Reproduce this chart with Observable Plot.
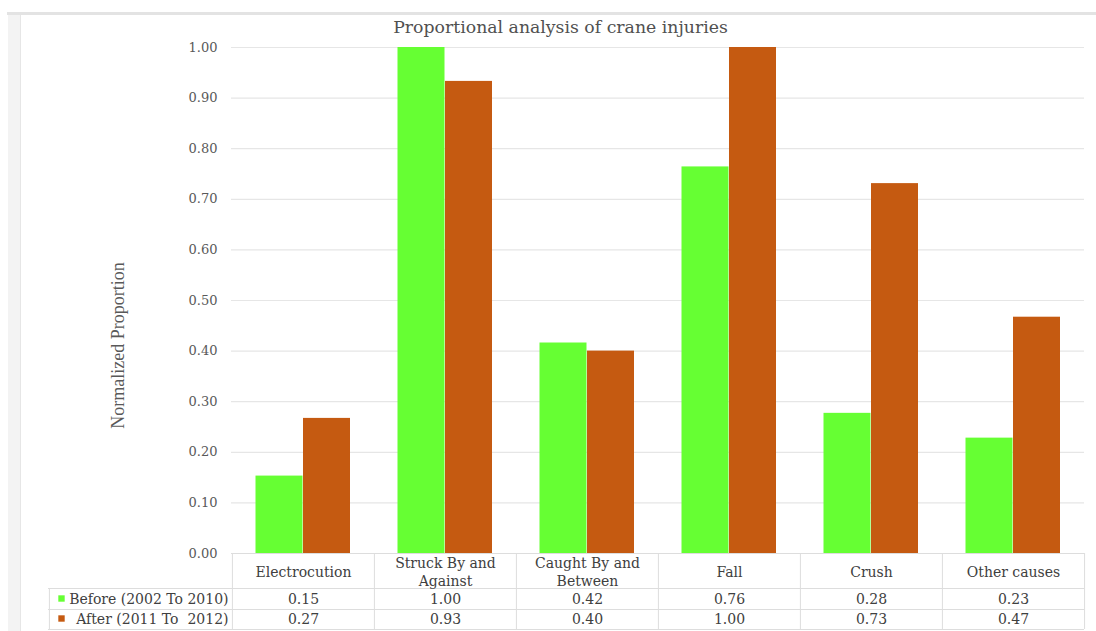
<!DOCTYPE html>
<html>
<head>
<meta charset="utf-8">
<script src="https://cdn.jsdelivr.net/npm/d3@7"></script>
<script src="https://cdn.jsdelivr.net/npm/@observablehq/plot@0.6"></script>
<style>
  html, body { margin: 0; padding: 0; background: #fff; }
  #wrap { position: relative; width: 1096px; height: 631px; overflow: hidden; }
  #topline { position: absolute; left: 7px; right: 0; top: 12px; height: 3px; background: #e3e3e3; }
  #leftstrip { position: absolute; left: 8px; top: 15px; bottom: 0; width: 12px; background: #f3f3f3; border-right: 1px solid #e6e6e6; }
  #chart { position: absolute; left: 0; top: 0; }
  svg text { white-space: pre; }
</style>
</head>
<body>
<div id="wrap">
  <div id="topline"></div>
  <div id="leftstrip"></div>
  <div id="chart"></div>
</div>
<script>
// ---- data ----
const title = "Proportional analysis of crane injuries";
const yLabel = "Normalized Proportion";
const categories = ["Electrocution", "Struck By and\nAgainst", "Caught By and\nBetween", "Fall", "Crush", "Other causes"];
const seriesNames = ["Before (2002 To 2010)", "After (2011 To  2012)"];
const before = [0.153, 1.0, 0.416, 0.764, 0.277, 0.228];
const after = [0.267, 0.933, 0.40, 1.0, 0.731, 0.467];
const yTicks = [0, 0.1, 0.2, 0.3, 0.4, 0.5, 0.6, 0.7, 0.8, 0.9, 1.0];

// ---- styles ----
const colors = ["#66FF33", "#C55A11"];
const W = 1096, H = 631;
const mL = 231, mR = 12, mT = 47, mB = 78;
const step = (W - mL - mR) / categories.length;
const frameH = H - mT - mB;
const lineColor = "#dddddd";
const serifWide = "DejaVu Serif";
const serif = "Liberation Serif";
const tableFont = 14;

const rowsBefore = categories.map((c, i) => ({cat: c, value: before[i]}));
const rowsAfter = categories.map((c, i) => ({cat: c, value: after[i]}));
const fmt = v => v.toFixed(2);

const chart = Plot.plot({
  width: W,
  height: H,
  marginLeft: mL,
  marginRight: mR,
  marginTop: mT,
  marginBottom: mB,
  style: {background: "transparent", overflow: "visible"},
  x: {domain: categories, padding: 0, axis: null},
  y: {domain: [0, 1], axis: null},
  marks: [
    Plot.gridY(yTicks, {stroke: "#e6e6e6", strokeOpacity: 1, strokeWidth: 1.2}),
    Plot.axisY(yTicks, {tickSize: 0, tickPadding: 14, tickFormat: fmt, fontSize: 13, fontFamily: serifWide, fill: "#595959", label: null}),
    Plot.barY(rowsBefore, {x: "cat", y: "value", fill: colors[0], insetLeft: 23.5, insetRight: 71.5}),
    Plot.barY(rowsAfter, {x: "cat", y: "value", fill: colors[1], insetLeft: 71, insetRight: 24}),
    // data table grid
    Plot.ruleY([0], {stroke: lineColor}),
    Plot.ruleY([0], {stroke: lineColor, dy: 35, insetLeft: -183}),
    Plot.ruleY([0], {stroke: lineColor, dy: 56, insetLeft: -183}),
    Plot.ruleY([0], {stroke: lineColor, dy: 76, insetLeft: -183}),
    Plot.ruleX(categories, {x: d => d, dx: -step / 2, stroke: lineColor, insetTop: frameH, insetBottom: -76}),
    Plot.ruleX([categories[categories.length - 1]], {x: d => d, dx: step / 2, stroke: lineColor, insetTop: frameH, insetBottom: -76}),
    Plot.ruleX([categories[0]], {x: d => d, dx: -step / 2 - 183, stroke: lineColor, insetTop: frameH + 35, insetBottom: -76}),
    // table header (category labels)
    Plot.text(categories, {x: d => d, text: d => d, frameAnchor: "bottom", dy: 18, lineAnchor: "middle", lineHeight: 1.3, fontSize: tableFont, fontFamily: serifWide, fill: "#404040"}),
    // table values
    Plot.text(rowsBefore, {x: "cat", text: d => fmt(d.value), frameAnchor: "bottom", dy: 46, lineAnchor: "middle", fontSize: tableFont, fontFamily: serifWide, fill: "#404040"}),
    Plot.text(rowsAfter, {x: "cat", text: d => fmt(d.value), frameAnchor: "bottom", dy: 66, lineAnchor: "middle", fontSize: tableFont, fontFamily: serifWide, fill: "#404040"}),
    // legend keys in table
    Plot.dot([seriesNames[0]], {frameAnchor: "bottom-left", dx: -170, dy: 45, symbol: "square", r: 3.6, fill: colors[0], stroke: null}),
    Plot.dot([seriesNames[1]], {frameAnchor: "bottom-left", dx: -170, dy: 65, symbol: "square", r: 3.6, fill: colors[1], stroke: null}),
    Plot.text([seriesNames[0]], {text: d => d, frameAnchor: "bottom-left", dx: -3, dy: 46, textAnchor: "end", lineAnchor: "middle", fontSize: tableFont, fontFamily: serifWide, fill: "#404040"}),
    Plot.text([seriesNames[1]], {text: d => d, frameAnchor: "bottom-left", dx: -3, dy: 66, textAnchor: "end", lineAnchor: "middle", fontSize: tableFont, fontFamily: serifWide, fill: "#404040"}),
    // y label
    Plot.text([yLabel], {text: d => d, frameAnchor: "left", textAnchor: "middle", dx: -113, dy: 45, rotate: -90, fontSize: 18, fontFamily: serif, fill: "#595959"}),
    // title
    Plot.text([title], {text: d => d, frameAnchor: "top", textAnchor: "middle", dx: 560 - (mL + (W - mR)) / 2, dy: -27, fontSize: 17.3, fontFamily: serifWide, fill: "#505050"})
  ]
});
document.getElementById("chart").appendChild(chart);
</script>
</body>
</html>
